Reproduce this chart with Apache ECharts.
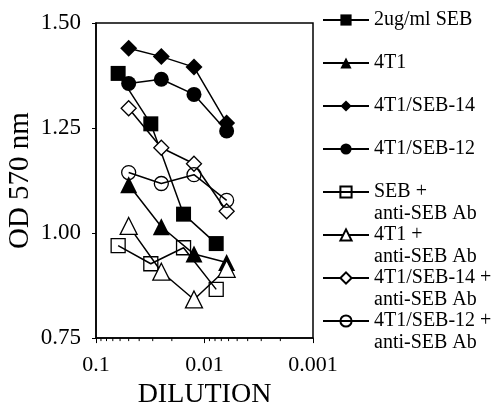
<!DOCTYPE html>
<html>
<head>
<meta charset="utf-8">
<script src="https://cdn.jsdelivr.net/npm/echarts@6/dist/echarts.min.js"></script>
<style>
  html, body { margin: 0; padding: 0; background: #fff; }
  #chart { width: 495px; height: 414px; }
</style>
</head>
<body>
<div id="chart"></div>
<script>
// dilution steps (SEB control used a different series of steps)
const sebDilution = [0.0625, 0.03125, 0.0156, 0.0078];
const cellDilution = [0.05, 0.025, 0.0125, 0.00625];

const seb = [1.38, 1.26, 1.045, 0.975];
const t1 = [1.115, 1.015, 0.95, 0.93];
const seb14 = [1.44, 1.42, 1.395, 1.262];
const seb12 = [1.356, 1.366, 1.33, 1.243];
const sebAb = [0.97, 0.927, 0.965, 0.866];
const t1Ab = [1.017, 0.908, 0.842, 0.915];
const seb14Ab = [1.297, 1.203, 1.165, 1.052];
const seb12Ab = [1.144, 1.118, 1.139, 1.078];

const yTicks = [0.75, 1.0, 1.25, 1.5];
const minorTicks = [0.09, 0.08, 0.07, 0.06, 0.05, 0.04, 0.03, 0.02,
                    0.009, 0.008, 0.007, 0.006, 0.005, 0.004, 0.003, 0.002];

const FONT = '"Liberation Serif", "Times New Roman", serif';
const LH = 21.5;

const pairs = (xs, ys) => xs.map((x, i) => [x, ys[i]]);

function makeSeries(name, xs, ys, symbol, size, fill) {
  return {
    name: name,
    type: 'line',
    data: pairs(xs, ys),
    symbol: symbol,
    symbolSize: size,
    showSymbol: true,
    lineStyle: { color: '#000', width: 1.5 },
    itemStyle: { color: fill, borderColor: '#000', borderWidth: fill === '#000' ? 0 : 1.3 },
    emphasis: { disabled: true },
    z: 3
  };
}

const series = [
  makeSeries('2ug/ml SEB', sebDilution, seb, 'rect', 15, '#000'),
  makeSeries('4T1', cellDilution, t1, 'triangle', 17, '#000'),
  makeSeries('4T1/SEB-14', cellDilution, seb14, 'diamond', 17, '#000'),
  makeSeries('4T1/SEB-12', cellDilution, seb12, 'circle', 15, '#000'),
  makeSeries('SEB +\nanti-SEB Ab', sebDilution, sebAb, 'rect', 14, 'transparent'),
  makeSeries('4T1 +\nanti-SEB Ab', cellDilution, t1Ab, 'triangle', 17, '#fff'),
  makeSeries('4T1/SEB-14 +\nanti-SEB Ab', cellDilution, seb14Ab, 'diamond', 15, '#fff'),
  makeSeries('4T1/SEB-12 +\nanti-SEB Ab', cellDilution, seb12Ab, 'circle', 14, 'transparent'),
  {
    type: 'custom',
    silent: true,
    clip: false,
    data: minorTicks.map(v => [v, yTicks[0]]),
    renderItem: function (params, api) {
      const pt = api.coord([api.value(0), api.value(1)]);
      return {
        type: 'line',
        shape: { x1: pt[0], y1: pt[1], x2: pt[0], y2: pt[1] + 3 },
        style: { stroke: '#000', lineWidth: 1 }
      };
    }
  }
];

const chart = echarts.init(document.getElementById('chart'));

chart.setOption({
  animation: false,
  backgroundColor: '#fff',
  grid: {
    left: 96, right: 182, top: 23, bottom: 72,
    show: true, borderColor: '#000', borderWidth: 1.5,
    containLabel: false
  },
  legend: {
    orient: 'vertical',
    left: 322,
    top: -12.25,
    padding: 0,
    itemWidth: 46,
    itemHeight: 14,
    itemGap: -LH,
    selectedMode: false,
    // two-line names get a blank first line so the marker sits on their first line
    formatter: name => name.indexOf('\n') >= 0 ? ' \n' + name : name,
    textStyle: {
      fontFamily: FONT, fontSize: 20, lineHeight: LH, color: '#000',
      padding: [LH, 0, LH, 0]
    },
    data: series.filter(s => s.name).map(s =>
      s.name.indexOf('\n') >= 0
        ? { name: s.name, textStyle: { padding: [0, 0, 0, 0] } }
        : s.name)
  },
  xAxis: {
    type: 'log',
    logBase: 10,
    min: 0.001,
    max: 0.1,
    inverse: true,
    name: 'DILUTION',
    nameLocation: 'middle',
    nameGap: 41,
    nameTextStyle: { fontFamily: FONT, fontSize: 28, color: '#000' },
    axisLine: { show: true, lineStyle: { color: '#000', width: 1.5 } },
    axisTick: { show: true, inside: false, length: 5, lineStyle: { color: '#000' } },
    axisLabel: { fontFamily: FONT, fontSize: 22, color: '#000', margin: 16 },
    splitLine: { show: false }
  },
  yAxis: {
    type: 'value',
    min: yTicks[0],
    max: yTicks[yTicks.length - 1],
    interval: 0.25,
    name: 'OD 570 nm',
    nameLocation: 'middle',
    nameGap: 61,
    nameTextStyle: { fontFamily: FONT, fontSize: 29, color: '#000' },
    axisLine: { show: true, lineStyle: { color: '#000', width: 1.5 } },
    axisTick: { show: true, inside: false, length: 4, lineStyle: { color: '#000' } },
    axisLabel: {
      fontFamily: FONT, fontSize: 23, color: '#000', margin: 15,
      formatter: v => v.toFixed(2)
    },
    splitLine: { show: false }
  },
  series: series
});
</script>
</body>
</html>
